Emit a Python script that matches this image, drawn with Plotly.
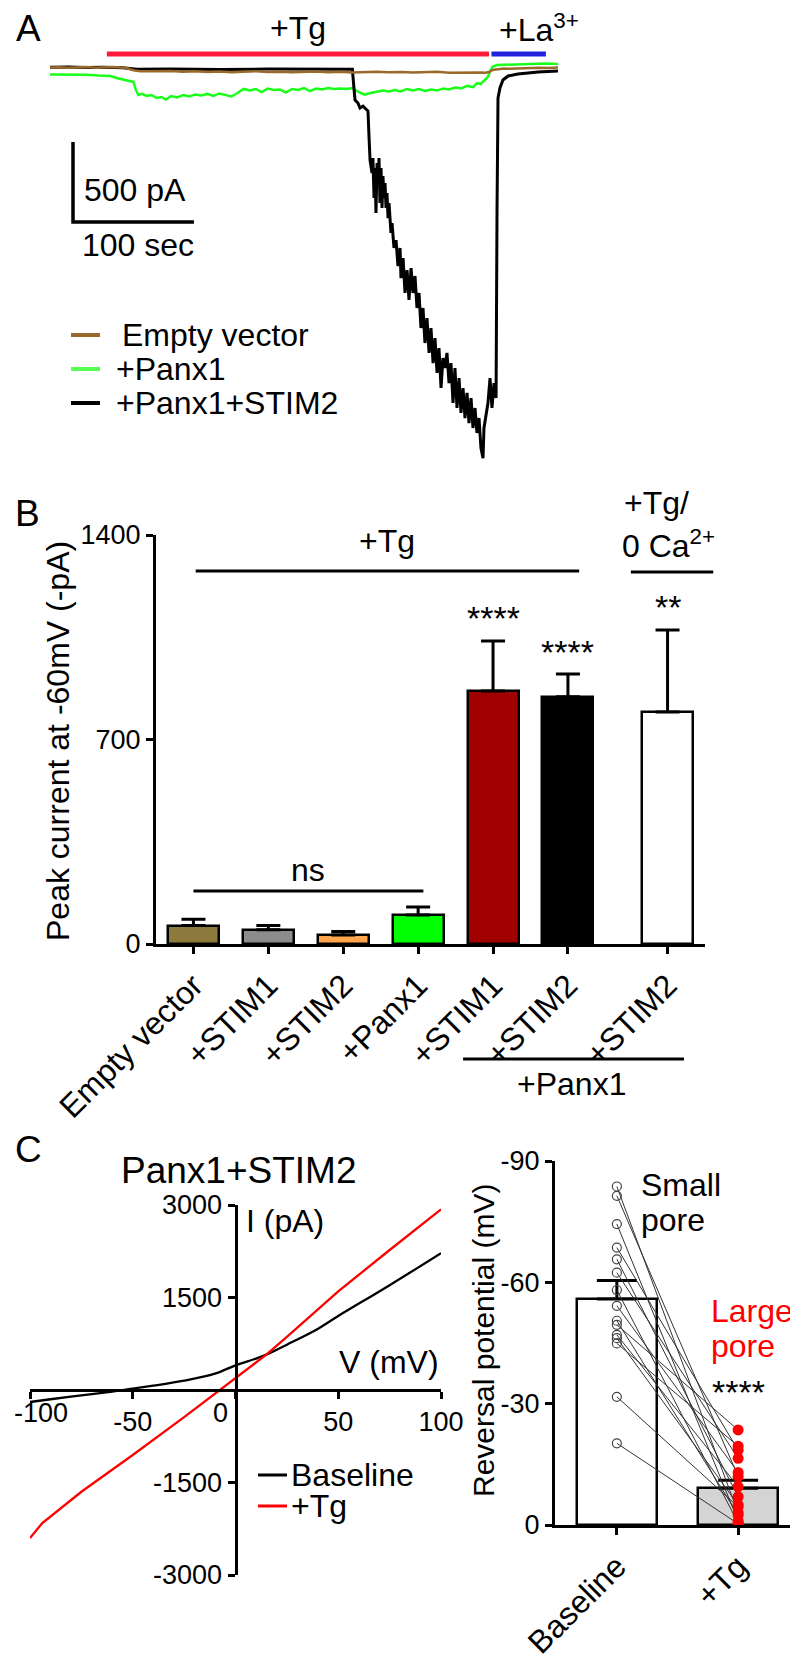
import numpy as np
import plotly.graph_objects as go

W, H = 798, 1680
FONT = "Liberation Sans, Arial, Helvetica, sans-serif"
TXT = 32
NUM = 27

# ---------------- Panel A: whole-cell current traces (time in s, current in pA) ----------------
ev_t = [0, 8, 15, 22, 30, 38, 45, 52, 58, 63, 66, 70, 75, 82, 90, 100, 110, 120, 130, 140,
        150, 160, 170, 180, 190, 200, 210, 220, 230, 240, 250, 260, 270, 280, 290, 300, 310, 320, 330, 340,
        350, 356, 360, 363, 366, 370, 375, 380, 388, 395, 405, 412, 420]
ev_i = [3, 5, 1, 4, 6, 2, 4, 7, 3, 1, -8, -16, -21, -20, -23, -19, -24, -21, -25, -22,
        -26, -23, -20, -25, -23, -27, -24, -22, -26, -24, -28, -25, -23, -27, -25, -28, -26, -24, -29, -27,
        -25, -28, -29, -25, -12, -6, -3, -5, -2, -1, 2, 0, 3]

p1_t = [0, 10, 20, 30, 40, 50, 55, 60, 65, 69, 71, 73, 76, 80, 84, 88, 92, 96, 100, 105,
        110, 115, 120, 125, 130, 135, 140, 145, 150, 155, 160, 165, 170, 175, 180, 185, 190, 195, 200, 205,
        210, 215, 220, 225, 230, 235, 240, 245, 250, 255, 260, 265, 270, 275, 280, 285, 290, 295, 300, 305,
        310, 315, 320, 325, 330, 335, 340, 345, 350, 353, 356, 359, 362, 364, 366, 370, 380, 390, 400, 410, 420]
p1_i = [-41, -41, -44, -42, -47, -50, -62, -72, -78, -87, -137, -169, -162, -175, -169, -187, -181, -197, -175, -184,
        -169, -178, -166, -172, -162, -175, -159, -169, -178, -156, -131, -141, -131, -150, -128, -137, -134, -153, -131, -137,
        -125, -144, -128, -134, -125, -131, -128, -131, -125, -150, -166, -156, -150, -141, -147, -137, -147, -131, -141, -131,
        -144, -134, -141, -128, -134, -122, -128, -112, -119, -94, -100, -75, -56, -19, 9, 19, 22, 25, 25, 28, 25]

ps_t = [0, 15, 30, 45, 60, 66, 72, 100, 140, 180, 220, 250, 251.3, 252.2, 254.6, 256.3, 258.8, 261.3, 262.9, 263.8,
        264.6, 266.2, 267, 267.9, 268.7, 269.5, 270.4, 271.2, 272, 272.8, 273.7, 274.5, 275.3, 276.1, 277, 277.8, 278.6, 279.5, 280.3, 281.9,
        282.8, 284.4, 286.1, 287.7, 289.4, 290.2, 291.9, 293.5, 295.2, 296.8, 298.5, 300.1, 301.8, 303.4, 305.1, 306.7, 308.4, 310, 311.7, 313.4,
        315, 316.7, 318.3, 320, 321.6, 323.3, 324.9, 326.6, 328.2, 329.9, 331.5, 333.2, 334.8, 336.5, 338.2, 339.8, 341.5, 343.1, 344.8, 346.4,
        348.1, 349.7, 351.4, 353, 354.7, 356.3, 358, 358.8, 360.5, 362.1, 363.8, 365.4, 367.1, 368.8, 369.6, 370.4, 372, 374.5, 378.7, 386.9,
        395.2, 403.5, 420]
ps_i = [4, 6, 3, 5, 2, -5, -8, -6, -9, -7, -10, -8, -125, -200, -219, -250, -238, -256, -269, -437,
        -575, -656, -563, -813, -625, -906, -594, -719, -563, -844, -625, -875, -675, -813, -719, -875, -781, -938, -844, -1031,
        -969, -1125, -1075, -1238, -1125, -1313, -1188, -1406, -1263, -1450, -1250, -1406, -1300, -1500, -1406, -1625, -1500, -1719, -1563, -1781,
        -1625, -1844, -1688, -1906, -1750, -2000, -1813, -1875, -1781, -1969, -1844, -2094, -1875, -2125, -1938, -2156, -2000, -2188, -2031, -2219,
        -2063, -2250, -2125, -2281, -2188, -2375, -2438, -2250, -2156, -2094, -1938, -2125, -1969, -2063, -875, -188, -125, -75, -50, -38,
        -31, -25, -19]

a_names = [" Empty vector", "+Panx1", "+Panx1+STIM2"]
tg_window = [47, 363]
la_window = [365, 410]
SCALE_PA = 500
SCALE_S = 100

# ---------------- Panel B: peak current bars ----------------
b_labels = ["Empty vector", "+STIM1", "+STIM2", "+Panx1", "+STIM1", "+STIM2", "+STIM2"]
b_pos = [0, 1, 2, 3, 4, 5, 6.33]
b_mean = [63, 49, 31, 99, 866, 846, 794]
b_sem = [22, 14, 12, 28, 171, 78, 281]
b_colors = ["#8b7a3c", "#8c8c8c", "#ffa64d", "#00ff00", "#a00000", "#000000", "#ffffff"]
b_yticks = [0, 700, 1400]

# ---------------- Panel C left: I-V curves ----------------
iv_v_base = [-100, -90, -75, -60, -50, -40, -25, -10, 0, 10, 15, 25, 40, 50, 75, 100]
iv_i_base = [-195, -150, -86, -25, 22, 70, 151, 265, 400, 510, 573, 735, 990, 1200, 1700, 2220]
iv_v_tg = [-100, -94, -75, -50, -25, -7.5, 0, 15, 25, 50, 75, 100]
iv_i_tg = [-2400, -2157, -1650, -1054, -440, 0, 190, 573, 860, 1600, 2270, 2930]
iv_xticks = [-100, -50, 0, 50, 100]
iv_yticks = [-3000, -1500, 1500, 3000]

# ---------------- Panel C right: reversal potentials (paired) ----------------
rev_base = [-83.7, -81.4, -74.4, -68.6, -65.7, -62.4, -58.1, -54.2, -50.5, -49.5, -47.0, -46.2, -44.9, -31.7, -20.2]
rev_tg = [-3.0, -12.0, -1.0, -18.5, -7.0, -16.5, -0.5, -13.0, -2.5, -23.5, -9.5, -5.0, -19.5, -4.5, -0.3]
rev_labels = ["Baseline", "+Tg"]
rev_yticks = [0, -30, -60, -90]

BROWN = "#9a6a2c"
GREEN = "#1aff1a"

# ---------------- layout geometry (pixels) ----------------
def px(x):
    return x / W

def py(y):
    return 1 - y / H

A_X = [42, 550]; A_Y = [0, 470]          # A: t 0..420 s, baseline at y=60 px, 0.16 px/pA
A_I = [(60 - 470) / 0.16, 60 / 0.16]
B_X = [148, 697]; B_Y = [527, 936]
B_R = [-0.5, 6.83]
C1_X = [22, 433]; C1_Y = [1197, 1567]
C1_R = [-100, 100]
C2_X = [547, 792]; C2_Y = [1153, 1517]
C2_R = [-0.51, 1.51]

def bx(v):
    """category position in panel B -> pixel x"""
    return B_X[0] + (v - B_R[0]) / (B_R[1] - B_R[0]) * (B_X[1] - B_X[0])

def ivx(v):
    """voltage in panel C (left) -> pixel x"""
    return C1_X[0] + (v - C1_R[0]) / (C1_R[1] - C1_R[0]) * (C1_X[1] - C1_X[0])

def tick_text(vals):
    return [str(v) for v in vals]

fig = go.Figure()

# Panel A traces
fig.add_trace(go.Scatter(x=p1_t, y=p1_i, mode="lines", line=dict(color=GREEN, width=2.5),
                         xaxis="x", yaxis="y", showlegend=False, name=a_names[1]))
fig.add_trace(go.Scatter(x=ps_t, y=ps_i, mode="lines", line=dict(color="black", width=3),
                         xaxis="x", yaxis="y", showlegend=False, name=a_names[2]))
fig.add_trace(go.Scatter(x=ev_t, y=ev_i, mode="lines", line=dict(color=BROWN, width=2.5),
                         xaxis="x", yaxis="y", showlegend=False, name=a_names[0]))
# treatment bars
bar_level = (60 - 46) / 0.16
fig.add_trace(go.Scatter(x=tg_window, y=[bar_level, bar_level], mode="lines",
                         line=dict(color="#ff1a3c", width=5), xaxis="x", yaxis="y", showlegend=False))
fig.add_trace(go.Scatter(x=la_window, y=[bar_level, bar_level], mode="lines",
                         line=dict(color="#2222dd", width=5), xaxis="x", yaxis="y", showlegend=False))
# scale bar
sb_t = (65 - 42) / 1.2095
sb_i = (60 - 214) / 0.16
fig.add_trace(go.Scatter(x=[sb_t, sb_t, sb_t + SCALE_S], y=[sb_i + SCALE_PA, sb_i, sb_i], mode="lines",
                         line=dict(color="black", width=3.5), xaxis="x", yaxis="y", showlegend=False))

# Panel B bars
fig.add_trace(go.Bar(x=b_pos, y=b_mean, width=0.68,
                     marker=dict(color=b_colors, line=dict(color="black", width=2.5)),
                     error_y=dict(type="data", symmetric=False, array=b_sem, arrayminus=[0] * len(b_sem),
                                  color="black", thickness=3, width=12),
                     xaxis="x2", yaxis="y2", showlegend=False))

# Panel C left
fig.add_trace(go.Scatter(x=iv_v_base, y=iv_i_base, mode="lines", line=dict(color="black", width=2.3, shape="spline"),
                         xaxis="x3", yaxis="y3", showlegend=False))
fig.add_trace(go.Scatter(x=iv_v_tg, y=iv_i_tg, mode="lines", line=dict(color="#ff0000", width=2.3),
                         xaxis="x3", yaxis="y3", showlegend=False))

# Panel C right
base_arr = np.array(rev_base)
tg_arr = np.array(rev_tg)
means = [base_arr.mean(), tg_arr.mean()]
sems = [base_arr.std(ddof=1) / np.sqrt(len(base_arr)), tg_arr.std(ddof=1) / np.sqrt(len(tg_arr))]
fig.add_trace(go.Bar(x=[0, 1], y=means, width=0.66,
                     marker=dict(color=["#ffffff", "#d4d4d4"], line=dict(color="black", width=2.5)),
                     error_y=dict(type="data", symmetric=False, array=[0, 0], arrayminus=sems,
                                  color="black", thickness=3, width=20),
                     xaxis="x4", yaxis="y4", showlegend=False))
lx, ly = [], []
for b, t in zip(rev_base, rev_tg):
    lx += [0, 1, None]
    ly += [b, t, None]
fig.add_trace(go.Scatter(x=lx, y=ly, mode="lines", line=dict(color="#333333", width=1),
                         xaxis="x4", yaxis="y4", showlegend=False))
fig.add_trace(go.Scatter(x=[0] * len(rev_base), y=rev_base, mode="markers",
                         marker=dict(symbol="circle-open", size=9, color="#444444", line=dict(width=1.2)),
                         xaxis="x4", yaxis="y4", showlegend=False))
fig.add_trace(go.Scatter(x=[1] * len(rev_tg), y=rev_tg, mode="markers",
                         marker=dict(symbol="circle", size=11, color="#ff0000"),
                         xaxis="x4", yaxis="y4", showlegend=False))

# ---------------- annotations & decorative shapes ----------------
anns = []
shapes = []

def ann(text, x, y, size=TXT, color="black", xa="center", ya="middle", angle=0):
    anns.append(dict(text=text, x=px(x), y=py(y), xref="paper", yref="paper", showarrow=False,
                     font=dict(size=size, color=color, family=FONT), xanchor=xa, yanchor=ya,
                     textangle=angle))

def line(x0, y0, x1, y1, color="black", width=3):
    shapes.append(dict(type="line", xref="paper", yref="paper", x0=px(x0), y0=py(y0), x1=px(x1), y1=py(y1),
                       line=dict(color=color, width=width)))

# panel letters
ann("A", 20, 21, size=37)
ann("B", 19, 505, size=37)
ann("C", 20, 1141, size=37)

# Panel A labels
ann("+Tg", 290, 20)
ann("+La<sup>3+</sup>", 489, 20, xa="left")
ann("500 pA", 74, 182, xa="left")
ann("100 sec", 130, 237)
legend_y = [327, 361, 395]
legend_c = [BROWN, "#55ff55", "black"]
legend_x = [112, 106, 106]
for name, yy, cc, xx in zip(a_names, legend_y, legend_c, legend_x):
    line(63, yy, 92, yy, color=cc, width=4)
    ann(name.strip(), xx, yy, xa="left")

# Panel B labels
ann("Peak current at -60mV (-pA)", 50, 733, size=32, angle=-90)
ann("+Tg", 379, 533)
line(bx(0.03), 563, bx(5.15), 563)
ann("+Tg/", 614, 495, xa="left")
ann("0 Ca<sup>2+</sup>", 612, 536, xa="left")
line(bx(5.84), 564, bx(6.94), 564)
ann("****", bx(4), 610, size=34)
ann("****", bx(5), 644, size=34)
ann("**", bx(6.33), 599, size=34)
ann("ns", bx(1.53), 862)
line(bx(0), 883, bx(3.07), 883)
line(bx(3.6), 1051, bx(6.55), 1051)
ann("+Panx1", bx(5.05), 1076)

# Panel C left labels
ann("Panx1+STIM2", 230, 1162, size=37)
ann("I (pA)", 236, 1213, xa="left")
ann("V (mV)", 433, 1354, xa="right")
# x tick labels that sit off their tick in the original (at the panel edge and beside the vertical axis)
iv_xtext = []
for v in iv_xticks:
    if v == -100:
        iv_xtext.append("")
        ann(str(v), ivx(v) + 11, 1405, size=NUM)
    elif v == 0:
        iv_xtext.append("")
        ann(str(v), ivx(v) - 15, 1405, size=NUM)
    else:
        iv_xtext.append(str(v))
for name, yy, cc in zip(["Baseline", "+Tg"], [1467, 1498], ["black", "#ff0000"]):
    line(250, yy, 279, yy, color=cc, width=3)
    ann(name, 281, yy, xa="left")

# Panel C right labels
ann("Reversal potential (mV)", 475, 1333, size=30, angle=-90)
ann("Small", 631, 1177, xa="left")
ann("pore", 631, 1212, xa="left")
ann("Large", 701, 1303, xa="left", color="#ff0000")
ann("pore", 701, 1338, xa="left", color="#ff0000")
ann("****", 730, 1384, size=34)

axis_common = dict(showgrid=False, zeroline=False, showline=True, linecolor="black", linewidth=3,
                   ticks="outside", ticklen=7, tickwidth=3, tickcolor="black", automargin=False,
                   ticklabeloverflow="allow")

fig.update_layout(
    width=W, height=H, margin=dict(l=0, r=0, t=0, b=0, pad=0, autoexpand=False),
    paper_bgcolor="white", plot_bgcolor="rgba(0,0,0,0)", showlegend=False,
    font=dict(family=FONT, color="black", size=NUM),
    xaxis=dict(domain=[px(A_X[0]), px(A_X[1])], range=[0, 420], visible=False, automargin=False),
    yaxis=dict(domain=[py(A_Y[1]), py(A_Y[0])], range=A_I, visible=False, automargin=False),
    xaxis2=dict(domain=[px(B_X[0]), px(B_X[1])], range=B_R, anchor="y2", tickvals=b_pos, ticktext=b_labels,
                tickangle=-45, tickfont=dict(size=TXT), **axis_common),
    yaxis2=dict(domain=[py(B_Y[1]), py(B_Y[0])], range=[0, 1400], anchor="x2", tickvals=b_yticks,
                ticktext=tick_text(b_yticks), tickfont=dict(size=NUM), **axis_common),
    xaxis3=dict(domain=[px(C1_X[0]), px(C1_X[1])], range=C1_R, anchor="free",
                position=(py(C1_Y[0]) + py(C1_Y[1])) / 2, tickvals=iv_xticks, ticktext=iv_xtext,
                tickangle=0, tickfont=dict(size=NUM), **axis_common),
    yaxis3=dict(domain=[py(C1_Y[1]), py(C1_Y[0])], range=[-3000, 3000], anchor="free",
                position=px((C1_X[0] + C1_X[1]) / 2), tickvals=iv_yticks, ticktext=tick_text(iv_yticks),
                tickfont=dict(size=NUM), **axis_common),
    xaxis4=dict(domain=[px(C2_X[0]), px(C2_X[1])], range=C2_R, anchor="y4", tickvals=[0, 1], ticktext=rev_labels,
                tickangle=-45, tickfont=dict(size=TXT), **axis_common),
    yaxis4=dict(domain=[py(C2_Y[1]), py(C2_Y[0])], range=[0, -90], anchor="x4", tickvals=rev_yticks,
                ticktext=tick_text(rev_yticks), tickfont=dict(size=NUM), **axis_common),
    annotations=anns, shapes=shapes, bargap=0,
)

fig.write_html("out.html")
